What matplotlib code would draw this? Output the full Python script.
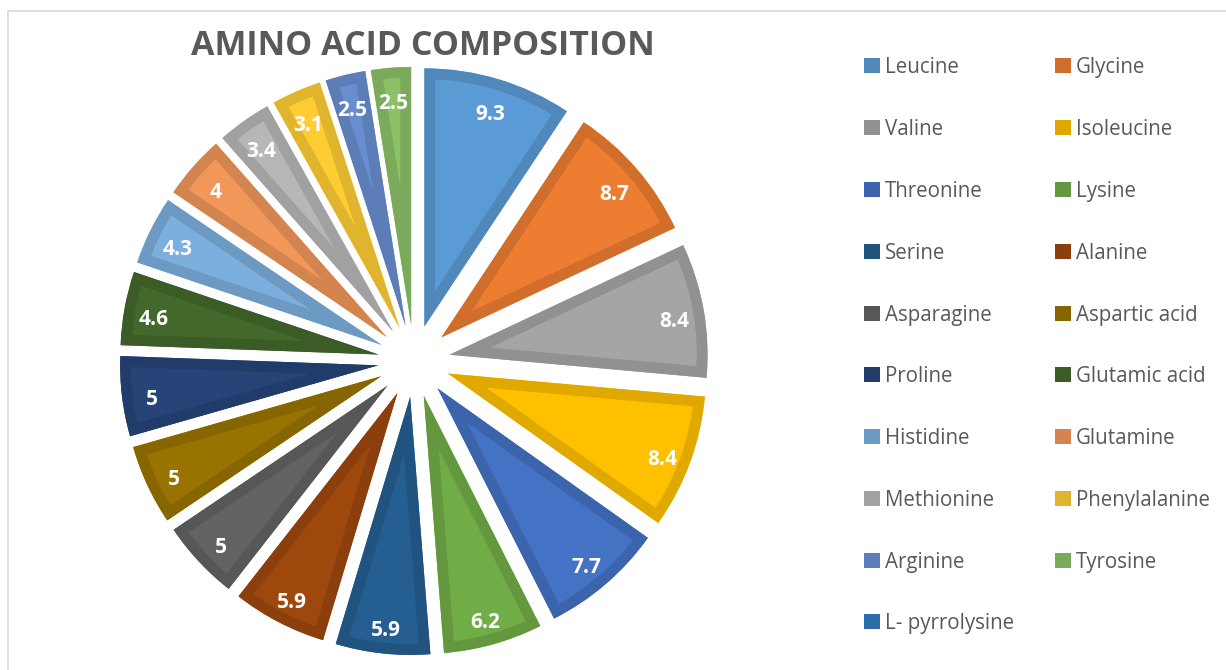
import numpy as np
import matplotlib.pyplot as plt
from matplotlib.colors import to_rgb
from matplotlib.patches import Rectangle, Wedge

names = ['Leucine', 'Glycine', 'Valine', 'Isoleucine', 'Threonine', 'Lysine',
         'Serine', 'Alanine', 'Asparagine', 'Aspartic acid', 'Proline',
         'Glutamic acid', 'Histidine', 'Glutamine', 'Methionine',
         'Phenylalanine', 'Arginine', 'Tyrosine', 'L- pyrrolysine']
values = [9.3, 8.7, 8.4, 8.4, 7.7, 6.2, 5.9, 5.9, 5, 5, 5, 4.6, 4.3, 4,
          3.4, 3.1, 2.5, 2.5, 0]
colors = ['#5B9BD5', '#ED7D31', '#A5A5A5', '#FFC000', '#4472C4', '#70AD47',
          '#255E91', '#9E480E', '#636363', '#997300', '#264478', '#43682B',
          '#7CAFDD', '#F1975A', '#B7B7B7', '#FFCD33', '#698ED0', '#8CC168',
          '#327DC2']


def darken(c, f=0.88):
    return tuple(v * f for v in to_rgb(c))


plt.rcParams['font.family'] = ['Open Sans', 'DejaVu Sans']

W, H = 1226, 670
fig = plt.figure(figsize=(W / 100, H / 100), dpi=100)

# light frame around the chart area
fig.patches.append(Rectangle((8 / W, -0.05), 1.0, (H - 11) / H + 0.05,
                             transform=fig.transFigure, fill=False,
                             edgecolor='#D9D9D9', linewidth=1.2))

# pie centre and radius in pixels
cx, cy, R = 414, 361, 258
half = 300
ax = fig.add_axes([(cx - half) / W, (H - cy - half) / H, 2 * half / W, 2 * half / H])

shown = [i for i, v in enumerate(values) if v > 0]
wedges, _ = ax.pie([values[i] for i in shown],
                   colors=[colors[i] for i in shown],
                   startangle=90, counterclock=False,
                   explode=[0.14] * len(shown), radius=1,
                   wedgeprops=dict(linewidth=0))
lim = half / R
ax.set_xlim(-lim, lim)
ax.set_ylim(-lim, lim)

for w, i in zip(wedges, shown):
    # darker band along the inside of each slice
    band = Wedge(w.center, w.r, w.theta1, w.theta2, fill=False,
                 edgecolor=darken(colors[i]), linewidth=15.5)
    ax.add_patch(band)
    band.set_clip_path(w)
    ang = np.deg2rad((w.theta1 + w.theta2) / 2)
    x = w.center[0] + 0.885 * w.r * np.cos(ang)
    y = w.center[1] + 0.885 * w.r * np.sin(ang)
    ax.annotate(f'{values[i]:g}', (x, y), xytext=(0, -4),
                textcoords='offset pixels', ha='center',
                va='center_baseline', color='white', fontsize=15,
                fontweight='bold')

fig.text(423 / W, 1 - 55 / H, 'AMINO ACID COMPOSITION', ha='center',
         va='baseline', fontsize=24.5, fontweight='bold', color='#595959')

# legend in two columns
col_x = [864, 1055]
for k, (name, c) in enumerate(zip(names, colors)):
    row, col = divmod(k, 2)
    base = 73.3 + 61.8 * row
    fig.patches.append(Rectangle((col_x[col] / W, 1 - base / H), 16 / W, 15 / H,
                                 transform=fig.transFigure,
                                 facecolor=darken(c), edgecolor='none'))
    fig.text((col_x[col] + 21) / W, 1 - base / H, name, ha='left',
             va='baseline', fontsize=14.8, color='#595959')

fig.savefig('out.png', dpi=100)
